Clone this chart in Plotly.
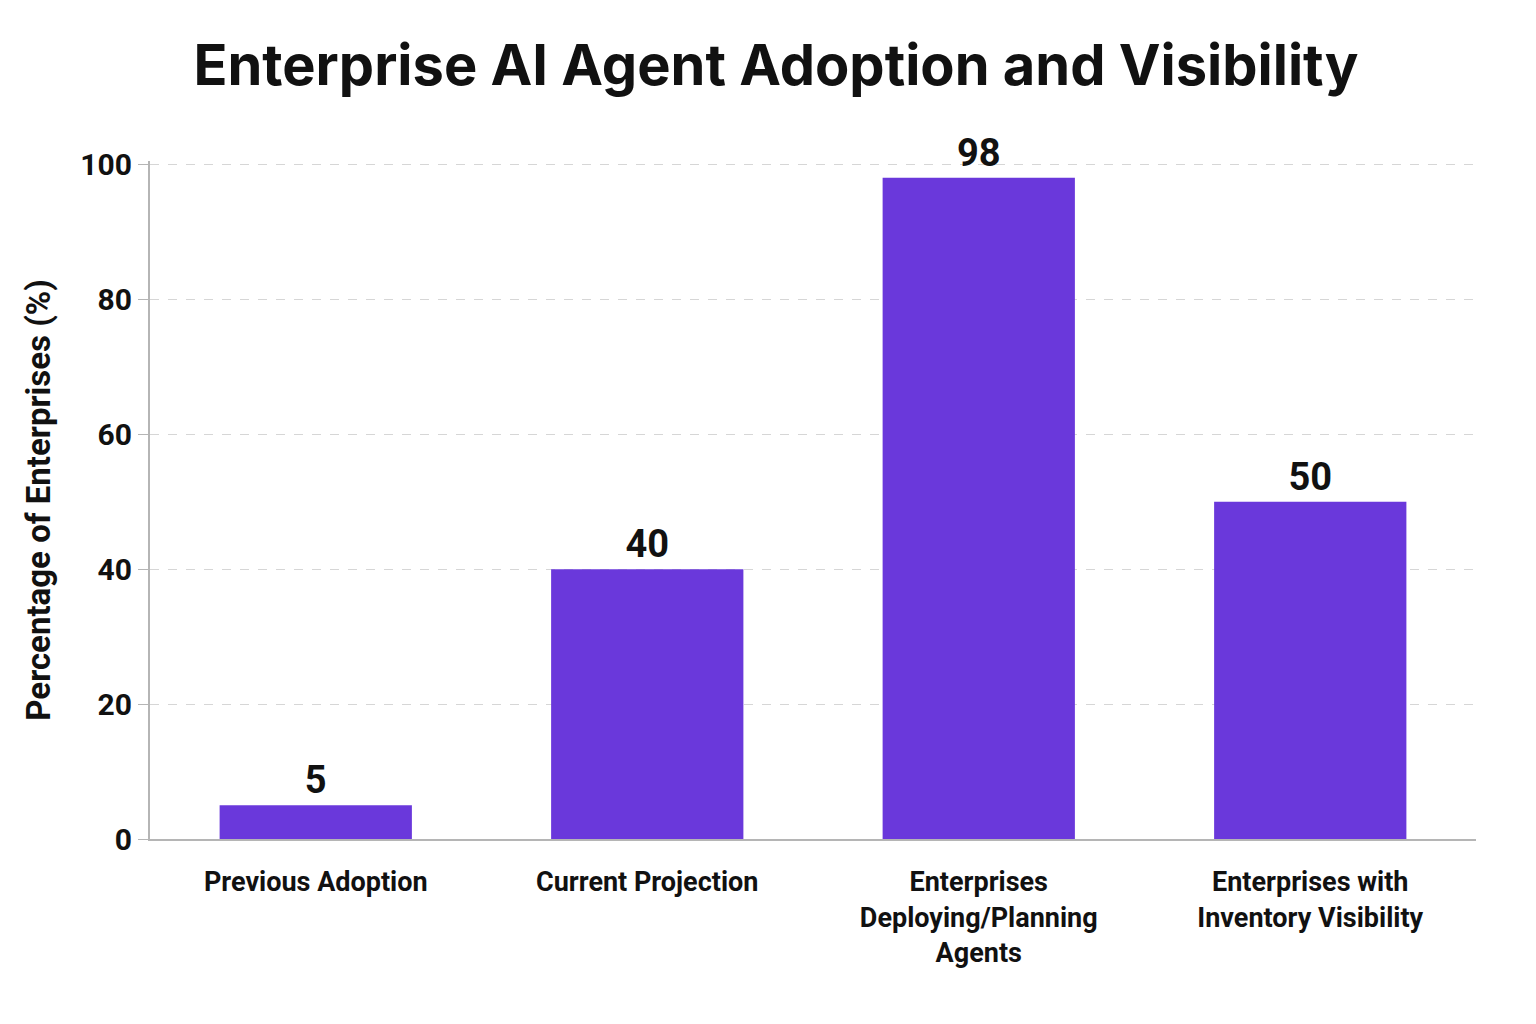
import plotly.graph_objects as go

categorias = ["Previous Adoption", "Current Projection",
              "Enterprises<br>Deploying/Planning<br>Agents",
              "Enterprises with<br>Inventory Visibility"]
valores = [5, 40, 98, 50]
rotulos = ["5", "40", "98", "50"]
ticks_y = [0, 20, 40, 60, 80, 100]

fig = go.Figure()
fig.add_trace(go.Bar(
    x=categorias, y=valores, text=rotulos,
    textposition="outside", cliponaxis=False,
    textfont=dict(size=38, color="#111111", family="Roboto", weight="bold"),
    marker=dict(color="#6A38DB", line=dict(width=0)),
    width=0.58,
))
fig.update_layout(
    width=1536, height=1024,
    paper_bgcolor="white", plot_bgcolor="white",
    margin=dict(l=142, r=68, t=153, b=193, autoexpand=False),
    title=dict(text="<b>Enterprise AI Agent Adoption and Visibility</b>",
               x=0.5, xanchor="center", y=0.944, yanchor="middle",
               font=dict(size=56, color="#111111", family="Inter")),
    showlegend=False,
)
fig.update_yaxes(
    range=[0, 100.5], tickvals=ticks_y,
    showgrid=True, gridcolor="#d6d6d6", griddash="dash", gridwidth=1,
    showline=True, linecolor="#b5b5b5", linewidth=2,
    ticks="outside", ticklen=10, tickcolor="#b5b5b5",
    zeroline=False,
    tickfont=dict(size=30, color="#111111", family="Roboto", weight="bold"),
    title=dict(text="Percentage of Enterprises (%)", standoff=20,
               font=dict(size=33, color="#111111", family="Roboto", weight="bold")),
)
fig.update_xaxes(
    showline=True, linecolor="#b5b5b5", linewidth=2,
    ticks="", ticklabelstandoff=18,
    tickfont=dict(size=27, color="#111111", family="Roboto", weight="bold"),
)
fig.write_html("out.html")
